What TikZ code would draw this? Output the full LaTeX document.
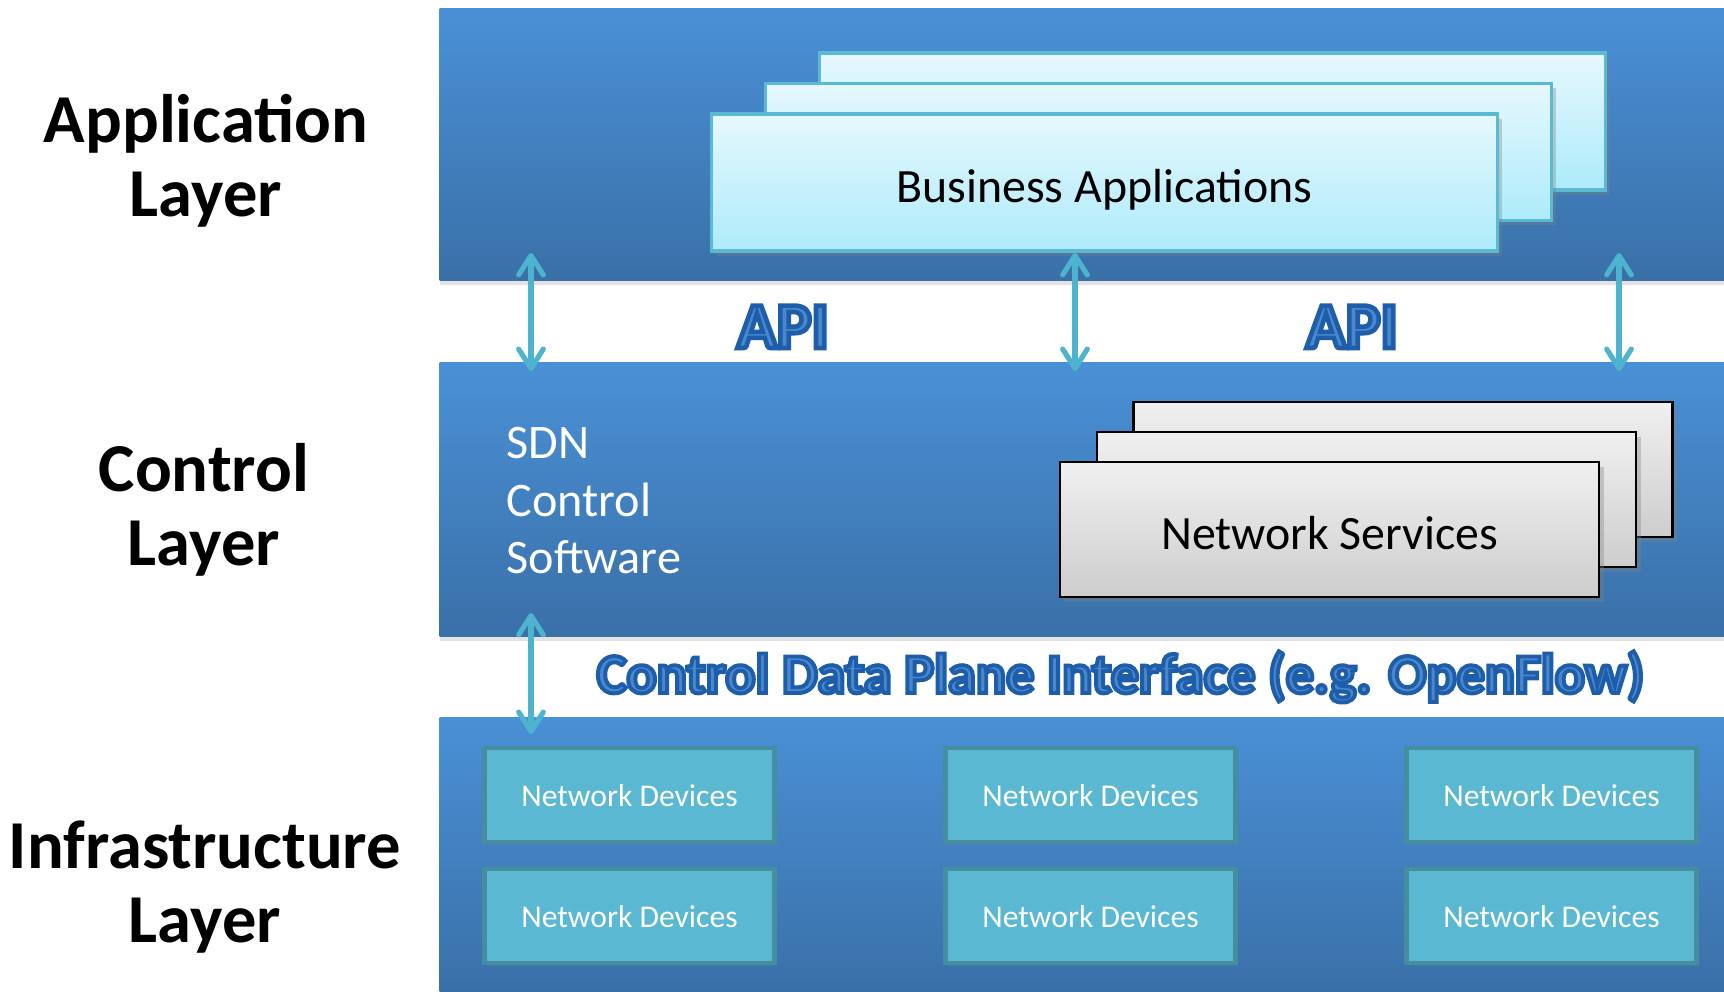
\documentclass[tikz,border=0pt]{standalone}
\usepackage{fontspec}
\setmainfont{Carlito}
\newfontfamily\outlnfont{Carlito Bold}[FakeBold=7]
\usetikzlibrary{arrows.meta,shadows}
\definecolor{bandtop}{HTML}{4A90D6}
\definecolor{bandbot}{HTML}{3A70A8}
\definecolor{arrowc}{HTML}{4DB3CF}
\definecolor{apifill}{HTML}{4A88CC}
\definecolor{apiline}{HTML}{1E5DAA}
\definecolor{batop}{HTML}{E6F8FD}
\definecolor{babot}{HTML}{ADEBFB}
\definecolor{baline}{HTML}{5BBAD3}
\definecolor{nstop}{HTML}{F0F0F0}
\definecolor{nsbot}{HTML}{CDCDCD}
\definecolor{ndfill}{HTML}{5BB8D2}
\definecolor{ndline}{HTML}{448E9F}
\newcommand\outlinedtext[1]{\special{pdf:code 0.118 0.365 0.667 RG}#1}
\begin{document}
\begin{tikzpicture}[x=0.01cm,y=-0.01cm,
  band/.style={rectangle, inner sep=0, minimum width=12.84cm, top color=bandtop, bottom color=bandbot,
    drop shadow={shadow xshift=0pt, shadow yshift=-1.4pt, opacity=0.22}},
  baapp/.style={rectangle, inner sep=0, minimum width=7.85cm, minimum height=1.37cm,
    top color=batop, bottom color=babot, draw=baline, line width=0.9pt,
    drop shadow={shadow xshift=1.3pt, shadow yshift=-1.3pt, opacity=0.35}},
  nssvc/.style={rectangle, inner sep=0, minimum width=5.39cm, minimum height=1.35cm,
    top color=nstop, bottom color=nsbot, draw=black, line width=0.75pt,
    drop shadow={shadow xshift=1.3pt, shadow yshift=-1.3pt, opacity=0.35}},
  nddev/.style={rectangle, inner sep=0, minimum width=2.89cm, minimum height=0.94cm,
    fill=ndfill, draw=ndline, line width=1.4pt, text=white, font=\fontsize{9}{11}\selectfont,
    text height=6.8pt, text depth=0pt,
    drop shadow={shadow xshift=0.8pt, shadow yshift=-0.8pt, opacity=0.2}},
  lab/.style={align=center, inner sep=0, anchor=base, font=\bfseries\fontsize{19.5}{21.05}\selectfont},
  otxt/.style={inner sep=0, anchor=base, text=apifill},
  apiarrow/.style={draw=arrowc, line width=1.45pt, line cap=round,
    {Straight Barb[length=5.5pt,width=7pt,round]}-{Straight Barb[length=5.5pt,width=7pt,round]}}
]
\useasboundingbox[fill=white] (0,0) rectangle (1724,992);

% layer bands
\node[band, minimum height=2.71cm] (appband) at (1082,144.5) {};
\node[band, minimum height=2.73cm] (ctlband) at (1082,499.5) {};
\node[band, minimum height=2.74cm] (infband) at (1082,855) {};

% left labels
\node[lab] (applab) at (206,217) {Application\\Layer};
\node[lab] (ctllab) at (204,566) {Control\\Layer};
\node[lab] (inflab) at (205,943) {Infrastructure\\Layer};

% business applications
\node[baapp] (ba3) at (1212.5,121.5) {};
\node[baapp] (ba2) at (1158.5,152) {};
\node[baapp, font=\fontsize{13.6}{16}\selectfont, text height=11.1pt, text depth=0pt] (ba1) at (1104.5,182.5) {Business Applications};

% network services
\node[nssvc] (ns3) at (1403,469.5) {};
\node[nssvc] (ns2) at (1366.5,499.5) {};
\node[nssvc, font=\fontsize{13.6}{16}\selectfont, text height=11.1pt, text depth=0pt] (ns1) at (1329.5,529.5) {Network Services};

% SDN control software
\node[align=left, inner sep=0, anchor=base west, text=white,
  font=\fontsize{13.7}{16.4}\selectfont] (sdn) at (506,574) {SDN\\Control\\Software};

% network devices
\foreach \c/\x in {1/629.5,2/1090.5,3/1551.5}{
  \node[nddev] (nd1\c) at (\x,795) {Network Devices};
  \node[nddev] (nd2\c) at (\x,916) {Network Devices};
}

% API labels
\node[otxt, font=\outlnfont\fontsize{18.6}{20}\selectfont] (api1) at (783,348) {\outlinedtext{API}};
\node[otxt, font=\outlnfont\fontsize{18.6}{20}\selectfont] (api2) at (1352,348) {\outlinedtext{API}};
\node[otxt, font=\outlnfont\fontsize{16}{18}\selectfont] (cdpi) at (1120.5,693) {\outlinedtext{Control Data Plane Interface (e.g. OpenFlow)}};

% arrows
\coordinate (u1t) at (531,253); \coordinate (u1b) at (531,371);
\coordinate (u2t) at (1075,253); \coordinate (u2b) at (1075,371);
\coordinate (u3t) at (1619,253); \coordinate (u3b) at (1619,371);
\coordinate (l1t) at (531,613); \coordinate (l1b) at (531,734);
\draw[apiarrow] (u1t) -- (u1b);
\draw[apiarrow] (u2t) -- (u2b);
\draw[apiarrow] (u3t) -- (u3b);
\draw[apiarrow] (l1t) -- (l1b);
\end{tikzpicture}
\end{document}
